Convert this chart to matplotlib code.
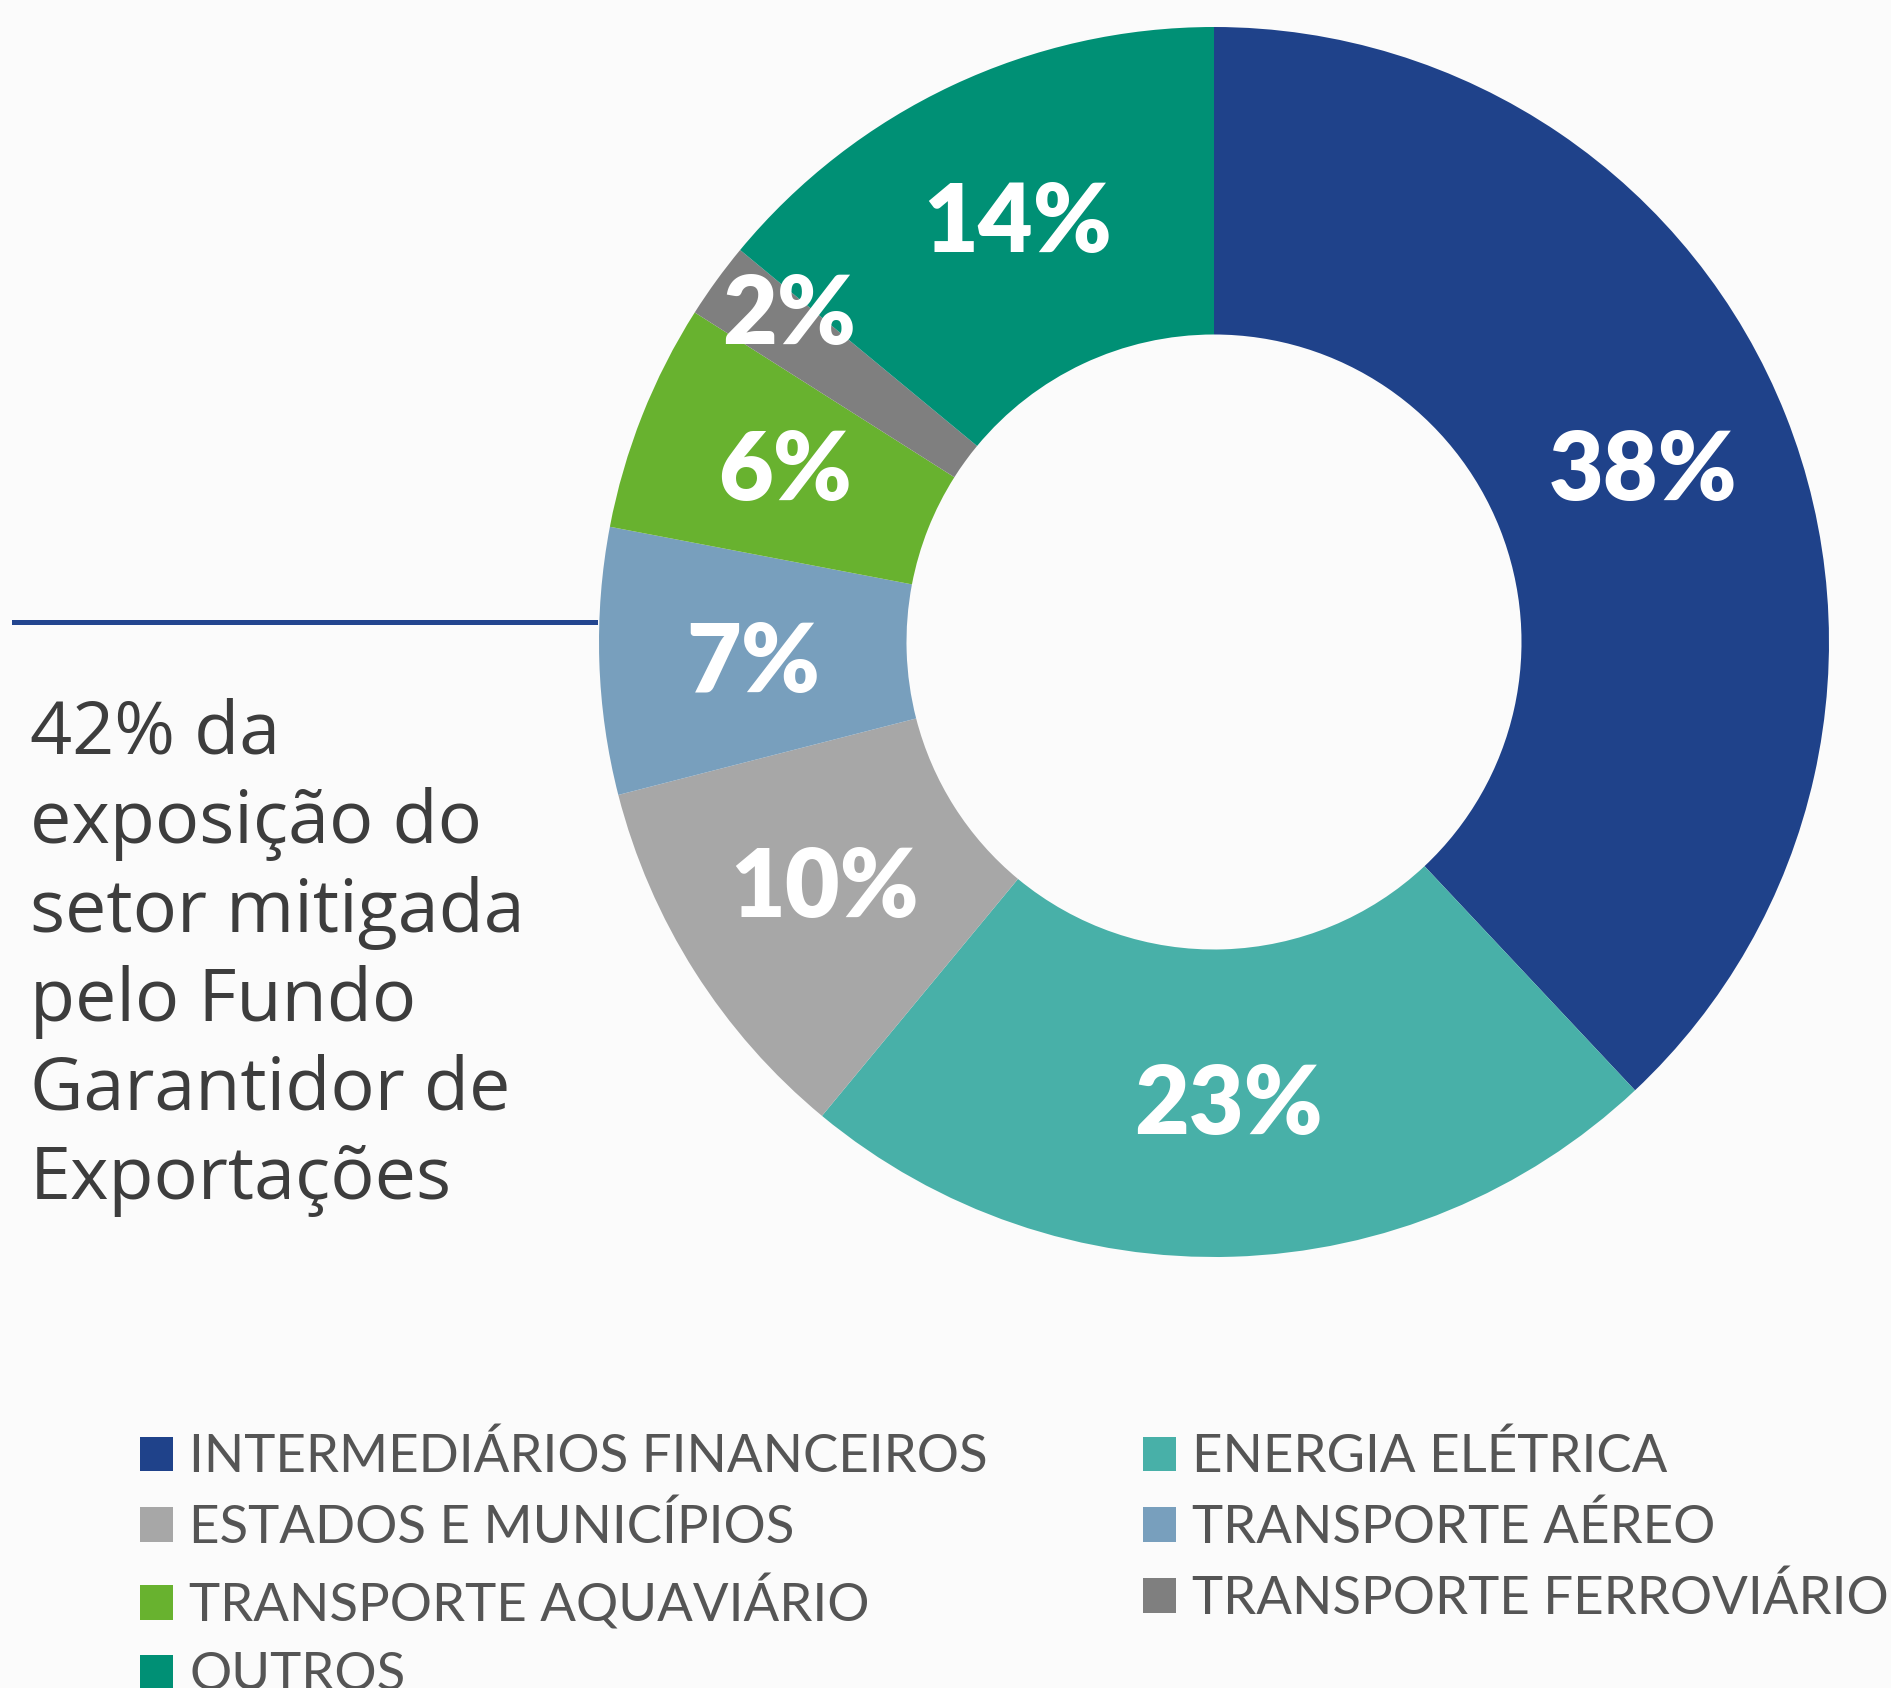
import matplotlib
matplotlib.use("Agg")
import matplotlib.pyplot as plt
from matplotlib.patches import Patch
import numpy as np

# ---- data ----
categories = ["INTERMEDIÁRIOS FINANCEIROS", "ENERGIA ELÉTRICA", "ESTADOS E MUNICÍPIOS",
              "TRANSPORTE AÉREO", "TRANSPORTE AQUAVIÁRIO", "TRANSPORTE FERROVIÁRIO", "OUTROS"]
values = [38, 23, 10, 7, 6, 2, 14]
colors = ["#1f428a", "#48b0a8", "#a7a7a7", "#789fbd", "#68b22f", "#7f7f7f", "#009075"]
side_text = ["42% da", "exposição do", "setor mitigada", "pelo Fundo", "Garantidor de", "Exportações"]

# label placement tweaks (angle offset in degrees, radius) -- styling only
label_tweaks = [(0, 0.75), (0, 0.755), (0, 0.75), (1, 0.75), (0, 0.75), (-1.5, 0.87), (0, 0.75)]

W, H = 1891, 1688
DPI = 100
fig = plt.figure(figsize=(W / DPI, H / DPI), dpi=DPI)
fig.patch.set_facecolor("#fbfbfb")

FONT = "Lato"
TEXTFONT = "Open Sans"

# pie axes: center (1214, 642) px, radius 615 px
cx, cy, R = 1214, 642, 615
ax = fig.add_axes([(cx - R) / W, (H - cy - R) / H, 2 * R / W, 2 * R / H])
wedges, _ = ax.pie(values, colors=colors, startangle=90, counterclock=False, radius=1,
                   wedgeprops=dict(width=0.5, edgecolor="none"))
ax.set_xlim(-1, 1)
ax.set_ylim(-1, 1)
ax.set_aspect("auto")
ax.axis("off")

for w, v, (dth, r) in zip(wedges, values, label_tweaks):
    mid = np.deg2rad((w.theta1 + w.theta2) / 2 + dth)
    ax.text(r * np.cos(mid), r * np.sin(mid), f"{v}%", ha="center", va="center",
            color="white", fontsize=68, fontweight="heavy", family=FONT)

# blue rule line
fig.add_artist(plt.Line2D([14 / W, 595 / W], [1 - 622 / H, 1 - 622 / H],
                          color="#23458f", lw=3.6, transform=fig.transFigure))

# side text
baselines = [754, 843, 932, 1021, 1110, 1199]
for line, b in zip(side_text, baselines):
    fig.text(30 / W, 1 - b / H, line, ha="left", va="baseline", fontsize=53,
             color="#3d3d3d", family=TEXTFONT)

# legend (row-major order)
handles = [Patch(facecolor=c, edgecolor="none") for c in colors]
order = [0, 2, 4, 6, 1, 3, 5]
leg = fig.legend([handles[i] for i in order], [categories[i] for i in order],
                 ncol=2, loc="upper left", bbox_to_anchor=(140 / W, 1 - 1433 / H),
                 frameon=False, handlelength=0.63, handleheight=0.63,
                 handletextpad=0.3, labelspacing=0.42, columnspacing=2.94,
                 borderpad=0, borderaxespad=0,
                 prop=dict(family=FONT, size=38))
for t in leg.get_texts():
    t.set_color("#555555")

fig.savefig("out.png", dpi=DPI, facecolor=fig.get_facecolor())
